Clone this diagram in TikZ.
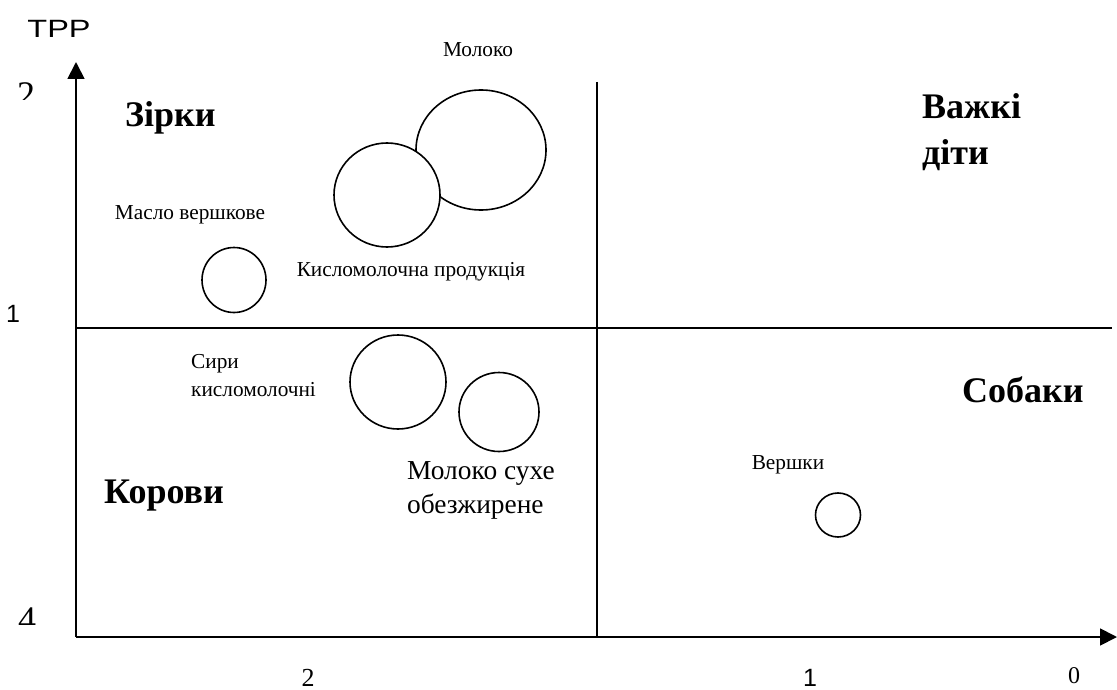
\documentclass[tikz,border=0pt]{standalone}
\usepackage{fontspec}
\setmainfont{Liberation Serif}
\newfontfamily\axisfont{Liberation Sans}
\usetikzlibrary{arrows.meta,positioning,shapes.geometric}

\begin{document}
\begin{tikzpicture}[
  x=1pt, y=-1pt,
  every node/.style={inner sep=0pt},
  itemtext/.style={font=\fontsize{21.3}{28}\selectfont, align=left},
  bigtext/.style={font=\fontsize{27.4}{34}\selectfont, align=left},
  quadtext/.style={font=\fontsize{36}{47}\selectfont\bfseries, align=left, anchor=base west},
  tick/.style={font=\axisfont\fontsize{25}{25}\selectfont},
  serifnum/.style={font=\fontsize{26}{26}\selectfont},
  bignum/.style={font=\fontsize{36}{36}\selectfont},
  bubble/.style={draw, ellipse, line width=1.6pt, fill=white},
  axis/.style={-{Triangle[length=17pt,width=17pt]}, line width=1.8pt},
  divider/.style={line width=1.4pt}
]
  \useasboundingbox (0,0) rectangle (1117,690);

  % axes and quadrants
  \coordinate (origin) at (76,637);
  \coordinate (ytip) at (76,62);
  \coordinate (xtip) at (1117,637);
  \coordinate (vtop) at (597,82);
  \coordinate (vbot) at (597,637);
  \coordinate (hleft) at (76,328);
  \coordinate (hright) at (1112,328);
  \draw[divider] (vtop) -- (vbot);
  \draw[divider] (hleft) -- (hright);
  \draw[axis] (origin) -- (ytip);
  \draw[axis] (origin) -- (xtip);

  % axis numbers
  \node[tick] (trr) at (59,29) {\scalebox{1.3}[1]{ТРР}};
  \begin{scope}
    \clip (0,70) rectangle (60,100);
    \node[bignum] (ytwo) at (26,95) {2};
  \end{scope}
  \node[tick] (yone) at (13,314) {1};
  \begin{scope}
    \clip (0,595) rectangle (60,624);
    \node[bignum] (yfour) at (27,620) {4};
  \end{scope}
  \node[serifnum] (xtwo) at (308,678) {2};
  \node[tick] (xone) at (810,678) {1};
  \node[serifnum, font=\fontsize{24}{24}\selectfont] (xzero) at (1074,676) {0};

  % quadrant names
  \node[quadtext] (stars) at (125,127) {Зірки};
  \node[quadtext] (kids) at (922,165) {Важкі\\діти};
  \node[quadtext] (cows) at (104,503) {Корови};
  \node[quadtext] (dogs) at (962,402) {Собаки};

  % products
  \node[bubble, minimum width=130pt, minimum height=120pt] (moloko) at (481,150) {};
  \node[bubble, minimum width=106pt, minimum height=104pt] (kislo) at (387,195) {};
  \node[bubble, minimum width=64pt, minimum height=65pt] (maslo) at (234,280) {};
  \node[bubble, minimum width=96pt, minimum height=94pt] (syry) at (398,382) {};
  \node[bubble, minimum width=80pt, minimum height=79pt] (sukhe) at (499,412) {};
  \node[bubble, minimum width=45pt, minimum height=44pt] (vershky) at (838,515) {};

  \node[itemtext] (molokolbl) at (478,50) {Молоко};
  \node[itemtext] (kislolbl) at (411,272) {Кисломолочна продукція};
  \node[itemtext] (maslolbl) at (190,215) {Масло вершкове};
  \node[itemtext, anchor=west] (syrylbl) at (191,376) {Сири\\кисломолочні};
  \node[bigtext, anchor=west] (sukhelbl) at (407,490) {Молоко сухе\\обезжирене};
  \node[itemtext] (vershkylbl) at (788,465) {Вершки};
\end{tikzpicture}
\end{document}
